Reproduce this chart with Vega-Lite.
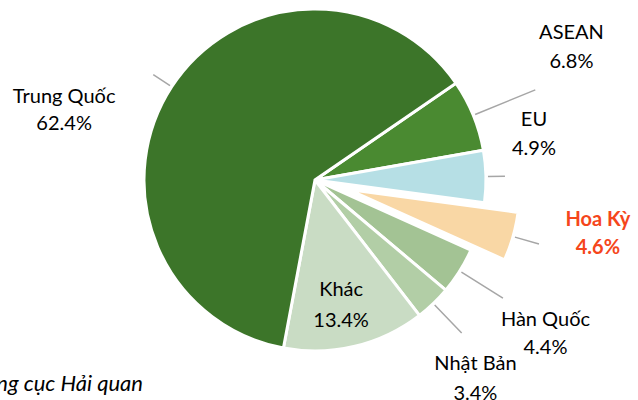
{
  "$schema": "https://vega.github.io/schema/vega-lite/v6.json",
  "width": 630,
  "height": 360,
  "autosize": "none",
  "padding": {"left": 0, "top": 0, "right": 8, "bottom": 40},
  "background": "white",
  "config": {"view": {"stroke": null}, "font": "Lato"},
  "data": {
    "values": [
      {"region": "ASEAN", "value": 6.8},
      {"region": "EU", "value": 4.9},
      {"region": "Hoa Kỳ", "value": 4.6},
      {"region": "Hàn Quốc", "value": 4.4},
      {"region": "Nhật Bản", "value": 3.4},
      {"region": "Khác", "value": 13.4},
      {"region": "Trung Quốc", "value": 62.4}
    ]
  },
  "transform": [
    {"window": [{"op": "sum", "field": "value", "as": "v1"}], "frame": [null, 0]},
    {"calculate": "datum.v1 - datum.value", "as": "v0"},
    {"calculate": "(datum.v0 + datum.v1) / 2", "as": "mid"},
    {"calculate": "[datum.region, format(datum.value, '.1f') + '%']", "as": "label"}
  ],
  "layer": [
    {
      "transform": [{"filter": "datum.region !== 'Hoa Kỳ'"}],
      "mark": {"type": "arc", "outerRadius": 171, "stroke": "white", "strokeWidth": 3},
      "encoding": {
        "theta": {"field": "v0", "type": "quantitative", "scale": {"type": "linear", "domain": [0, 99.9], "range": [0.9687, 7.2519]}},
        "theta2": {"field": "v1"},
        "color": {
          "field": "region", "type": "nominal", "legend": null,
          "scale": {
            "domain": ["ASEAN", "EU", "Hoa Kỳ", "Hàn Quốc", "Nhật Bản", "Khác", "Trung Quốc"],
            "range": ["#4A8A31", "#B6DFE5", "#F9D7A5", "#A3C394", "#B2CEA6", "#C9DCC4", "#3C7529"]
          }
        }
      }
    },
    {
      "transform": [{"filter": "datum.region === 'Hoa Kỳ'"}],
      "mark": {"type": "arc", "outerRadius": 171, "stroke": "white", "strokeWidth": 3, "xOffset": 33.6, "yOffset": 9.6},
      "encoding": {
        "theta": {"field": "v0", "type": "quantitative", "scale": {"type": "linear", "domain": [0, 99.9], "range": [0.9687, 7.2519]}},
        "theta2": {"field": "v1"},
        "color": {
          "field": "region", "type": "nominal", "legend": null,
          "scale": {
            "domain": ["ASEAN", "EU", "Hoa Kỳ", "Hàn Quốc", "Nhật Bản", "Khác", "Trung Quốc"],
            "range": ["#4A8A31", "#B6DFE5", "#F9D7A5", "#A3C394", "#B2CEA6", "#C9DCC4", "#3C7529"]
          }
        }
      }
    },
    {
      "transform": [{"filter": "datum.region === 'Trung Quốc'"}],
      "mark": {"type": "arc", "radius": 193, "radius2": 173, "fill": null, "stroke": "#A6A6A6", "strokeWidth": 1.5},
      "encoding": {
        "theta": {"field": "mid", "type": "quantitative", "scale": {"type": "linear", "domain": [0, 99.9], "range": [0.9687, 7.2519]}},
        "theta2": {"field": "mid"}
      }
    },
    {
      "transform": [{"filter": "datum.region === 'ASEAN'"}],
      "mark": {"type": "arc", "radius": 238, "radius2": 173, "fill": null, "stroke": "#A6A6A6", "strokeWidth": 1.5},
      "encoding": {
        "theta": {"field": "mid", "type": "quantitative", "scale": {"type": "linear", "domain": [0, 99.9], "range": [0.9687, 7.2519]}},
        "theta2": {"field": "mid"}
      }
    },
    {
      "transform": [{"filter": "datum.region === 'EU'"}],
      "mark": {"type": "arc", "radius": 190, "radius2": 173, "fill": null, "stroke": "#A6A6A6", "strokeWidth": 1.5},
      "encoding": {
        "theta": {"field": "mid", "type": "quantitative", "scale": {"type": "linear", "domain": [0, 99.9], "range": [0.9687, 7.2519]}},
        "theta2": {"field": "mid"}
      }
    },
    {
      "transform": [{"filter": "datum.region === 'Hàn Quốc'"}],
      "mark": {"type": "arc", "radius": 222, "radius2": 173, "fill": null, "stroke": "#A6A6A6", "strokeWidth": 1.5},
      "encoding": {
        "theta": {"field": "mid", "type": "quantitative", "scale": {"type": "linear", "domain": [0, 99.9], "range": [0.9687, 7.2519]}},
        "theta2": {"field": "mid"}
      }
    },
    {
      "transform": [{"filter": "datum.region === 'Nhật Bản'"}],
      "mark": {"type": "arc", "radius": 212, "radius2": 173, "fill": null, "stroke": "#A6A6A6", "strokeWidth": 1.5},
      "encoding": {
        "theta": {"field": "mid", "type": "quantitative", "scale": {"type": "linear", "domain": [0, 99.9], "range": [0.9687, 7.2519]}},
        "theta2": {"field": "mid"}
      }
    },
    {
      "transform": [{"filter": "datum.region === 'Hoa Kỳ'"}],
      "mark": {"type": "arc", "radius": 198, "radius2": 173, "fill": null, "stroke": "#A6A6A6", "strokeWidth": 1.5, "xOffset": 33.6, "yOffset": 9.6},
      "encoding": {
        "theta": {"field": "mid", "type": "quantitative", "scale": {"type": "linear", "domain": [0, 99.9], "range": [0.9687, 7.2519]}},
        "theta2": {"field": "mid"}
      }
    },
    {
      "transform": [{"filter": "datum.region === 'Trung Quốc'"}],
      "mark": {"type": "text", "radius": 254, "dx": -38, "dy": 56, "fontSize": 20, "lineHeight": 27, "align": "center", "baseline": "middle", "color": "#000000"},
      "encoding": {
        "theta": {"field": "mid", "type": "quantitative", "scale": {"type": "linear", "domain": [0, 99.9], "range": [0.9687, 7.2519]}},
        "text": {"field": "label"}
      }
    },
    {
      "transform": [{"filter": "datum.region === 'ASEAN'"}],
      "mark": {"type": "text", "radius": 289, "dx": -11, "dy": -38, "fontSize": 20, "lineHeight": 29, "align": "center", "baseline": "middle", "color": "#000000"},
      "encoding": {
        "theta": {"field": "mid", "type": "quantitative", "scale": {"type": "linear", "domain": [0, 99.9], "range": [0.9687, 7.2519]}},
        "text": {"field": "label"}
      }
    },
    {
      "transform": [{"filter": "datum.region === 'EU'"}],
      "mark": {"type": "text", "radius": 224, "dx": -5, "dy": -55, "fontSize": 20, "lineHeight": 29, "align": "center", "baseline": "middle", "color": "#000000"},
      "encoding": {
        "theta": {"field": "mid", "type": "quantitative", "scale": {"type": "linear", "domain": [0, 99.9], "range": [0.9687, 7.2519]}},
        "text": {"field": "label"}
      }
    },
    {
      "transform": [{"filter": "datum.region === 'Hoa Kỳ'"}],
      "mark": {"type": "text", "radius": 288, "dx": 6, "dy": -39, "fontSize": 20, "fontWeight": "bold", "lineHeight": 28, "align": "center", "baseline": "middle", "color": "#F5461B"},
      "encoding": {
        "theta": {"field": "mid", "type": "quantitative", "scale": {"type": "linear", "domain": [0, 99.9], "range": [0.9687, 7.2519]}},
        "text": {"field": "label"}
      }
    },
    {
      "transform": [{"filter": "datum.region === 'Hàn Quốc'"}],
      "mark": {"type": "text", "radius": 277, "dx": -4, "dy": -7, "fontSize": 20, "lineHeight": 28, "align": "center", "baseline": "middle", "color": "#000000"},
      "encoding": {
        "theta": {"field": "mid", "type": "quantitative", "scale": {"type": "linear", "domain": [0, 99.9], "range": [0.9687, 7.2519]}},
        "text": {"field": "label"}
      }
    },
    {
      "transform": [{"filter": "datum.region === 'Nhật Bản'"}],
      "mark": {"type": "text", "radius": 255, "dx": -16, "dy": 0, "fontSize": 20, "lineHeight": 30, "align": "center", "baseline": "middle", "color": "#000000"},
      "encoding": {
        "theta": {"field": "mid", "type": "quantitative", "scale": {"type": "linear", "domain": [0, 99.9], "range": [0.9687, 7.2519]}},
        "text": {"field": "label"}
      }
    },
    {
      "transform": [{"filter": "datum.region === 'Khác'"}],
      "mark": {"type": "text", "radius": 129, "dx": -4, "dy": -15, "fontSize": 20, "lineHeight": 31, "align": "center", "baseline": "middle", "color": "#000000"},
      "encoding": {
        "theta": {"field": "mid", "type": "quantitative", "scale": {"type": "linear", "domain": [0, 99.9], "range": [0.9687, 7.2519]}},
        "text": {"field": "label"}
      }
    },
    {
      "data": {"values": [{"source": "Nguồn: Tổng cục Hải quan"}]},
      "mark": {"type": "text", "x": 0, "y": "height", "dx": 143, "dy": 24, "align": "right", "baseline": "middle", "fontSize": 22, "fontStyle": "italic", "color": "#000000"},
      "encoding": {"text": {"field": "source"}}
    }
  ]
}
